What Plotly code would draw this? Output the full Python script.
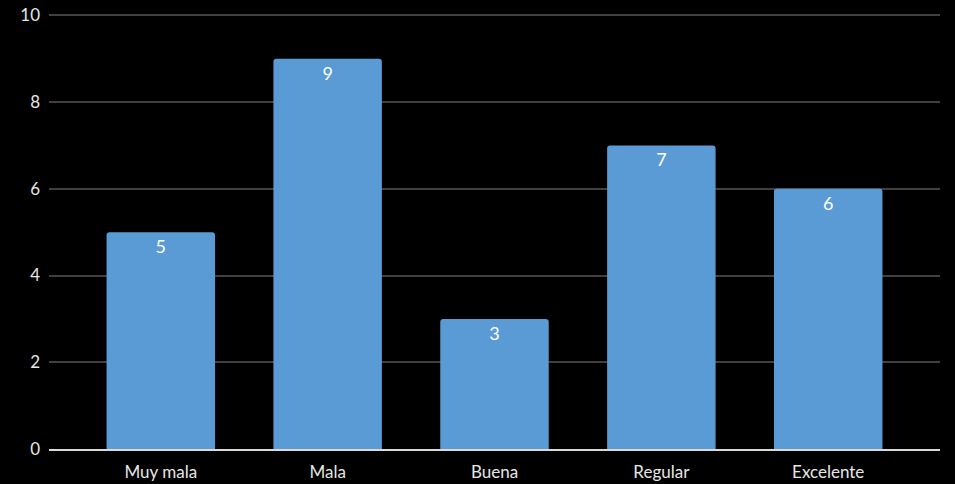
import plotly.graph_objects as go

categories = ["Muy mala", "Mala", "Buena", "Regular", "Excelente"]
values = [5, 9, 3, 7, 6]
y_ticks = [0, 2, 4, 6, 8, 10]

fig = go.Figure(go.Bar(
    x=categories,
    y=values,
    marker=dict(color="#5B9BD5", line=dict(width=0)),
    width=0.65,
    text=[str(v) for v in values],
    textposition="inside",
    insidetextanchor="end",
    textfont=dict(family="Lato", size=18, color="#FFFFFF"),
    cliponaxis=False,
))

fig.update_layout(
    width=955, height=484,
    margin=dict(l=49, r=15, t=11, b=35, autoexpand=False),
    paper_bgcolor="#000000",
    plot_bgcolor="#000000",
    barcornerradius=3,
    showlegend=False,
    font=dict(family="Lato", size=17, color="#E6E6E6"),
)
fig.update_xaxes(
    type="category",
    range=[-0.67, 4.67],
    showgrid=False,
    showline=True, linecolor="#D9D9D9", linewidth=2,
    ticks="", ticklabelstandoff=7, automargin=False,
    tickfont=dict(family="Lato", size=17, color="#E6E6E6"),
)
fig.update_yaxes(
    range=[0, 10.1],
    tickvals=y_ticks,
    showgrid=True, gridcolor="#404040", gridwidth=2,
    zeroline=False, showline=False,
    ticks="", ticklabelstandoff=8, automargin=False,
    tickfont=dict(family="Lato", size=17, color="#E6E6E6"),
)

fig.write_html("out.html")
